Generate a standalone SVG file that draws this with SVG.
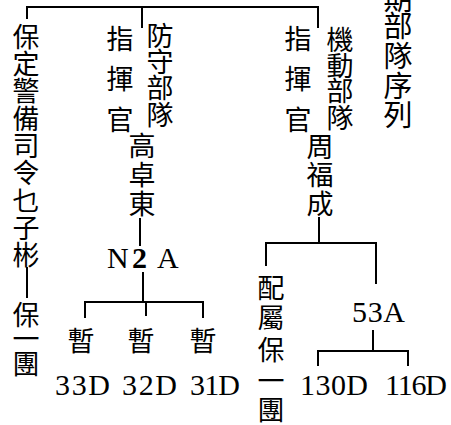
<svg xmlns="http://www.w3.org/2000/svg" width="451" height="425" viewBox="0 0 451 425">
<style>
.cj{font-family:"Noto Sans CJK TC","Noto Sans CJK JP",sans-serif;font-size:27px;text-anchor:middle;fill:#000}
.lat{font-family:"Liberation Serif","Times New Roman",serif;font-size:30px;fill:#000}
.ln{stroke:#000;stroke-width:2;fill:none;stroke-linecap:square}
</style>
<rect width="451" height="425" fill="#fff"/>
<g id="connectors" class="ln">
<path d="M27 7H318M27 7V18M142 7V27M318 7V27"/>
<path d="M27 268V297"/>
<path d="M140 219V245"/>
<path d="M143 273V302M85 302H203M85 302V317M146 302V315M203 302V317"/>
<path d="M319 218V243M266 243H376M266 243V265M376 243V283"/>
<path d="M373 331V351M318 351H408M318 351V365M408 351V365"/>
</g>
<g id="n-baoding"><text class="cj"><tspan x="26" y="47">保</tspan><tspan x="26" y="74">定</tspan><tspan x="26" y="101">警</tspan><tspan x="26" y="129">備</tspan><tspan x="26" y="156">司</tspan><tspan x="26" y="183">令</tspan><tspan x="26" y="211">乜</tspan><tspan x="26" y="238">子</tspan><tspan x="26" y="265">彬</tspan></text></g>
<g id="n-baoyituan1"><text class="cj"><tspan x="26" y="325">保</tspan><tspan x="26" y="349">一</tspan><tspan x="26" y="374">團</tspan></text></g>
<g id="n-zhihui1"><text class="cj"><tspan x="120" y="49">指</tspan><tspan x="120" y="89">揮</tspan><tspan x="120" y="130">官</tspan></text></g>
<g id="n-fangshou"><text class="cj"><tspan x="160" y="46">防</tspan><tspan x="160" y="72">守</tspan><tspan x="160" y="98">部</tspan><tspan x="160" y="125">隊</tspan></text></g>
<g id="n-gao"><text class="cj"><tspan x="142" y="156">高</tspan><tspan x="142" y="185">卓</tspan><tspan x="142" y="214">東</tspan></text></g>
<g id="n-n2a"><text class="lat" y="268"><tspan x="107">N</tspan><tspan x="132" font-weight="bold">2</tspan><tspan x="157">A</tspan></text></g>
<g id="n-zan1"><text class="cj" x="81" y="351">暫</text></g>
<g id="n-zan2"><text class="cj" x="141" y="351">暫</text></g>
<g id="n-zan3"><text class="cj" x="203" y="351">暫</text></g>
<g id="n-33d"><text class="lat" x="55" y="395" textLength="55">33D</text></g>
<g id="n-32d"><text class="lat" x="122" y="395" textLength="55">32D</text></g>
<g id="n-31d"><text class="lat" x="190" y="395" textLength="50">31D</text></g>
<g id="n-zhihui2"><text class="cj"><tspan x="298" y="49">指</tspan><tspan x="298" y="89">揮</tspan><tspan x="298" y="130">官</tspan></text></g>
<g id="n-jidong"><text class="cj"><tspan x="340" y="50">機</tspan><tspan x="340" y="76">動</tspan><tspan x="340" y="101">部</tspan><tspan x="340" y="128">隊</tspan></text></g>
<g id="n-title"><text class="cj" style="font-size:29px"><tspan x="398" y="10">期</tspan><tspan x="398" y="37">部</tspan><tspan x="398" y="67">隊</tspan><tspan x="398" y="97">序</tspan><tspan x="398" y="126">列</tspan></text></g>
<g id="n-zhou"><text class="cj"><tspan x="320" y="157">周</tspan><tspan x="320" y="185">福</tspan><tspan x="320" y="214">成</tspan></text></g>
<g id="n-peishu"><text class="cj"><tspan x="271" y="298">配</tspan><tspan x="271" y="328">屬</tspan><tspan x="271" y="360">保</tspan><tspan x="271" y="391">一</tspan><tspan x="271" y="420">團</tspan></text></g>
<g id="n-53a"><text class="lat" x="352" y="322" textLength="53">53A</text></g>
<g id="n-130d"><text class="lat" x="300" y="395" textLength="68">130D</text></g>
<g id="n-116d"><text class="lat" x="385" y="395" textLength="62">116D</text></g>
</svg>
